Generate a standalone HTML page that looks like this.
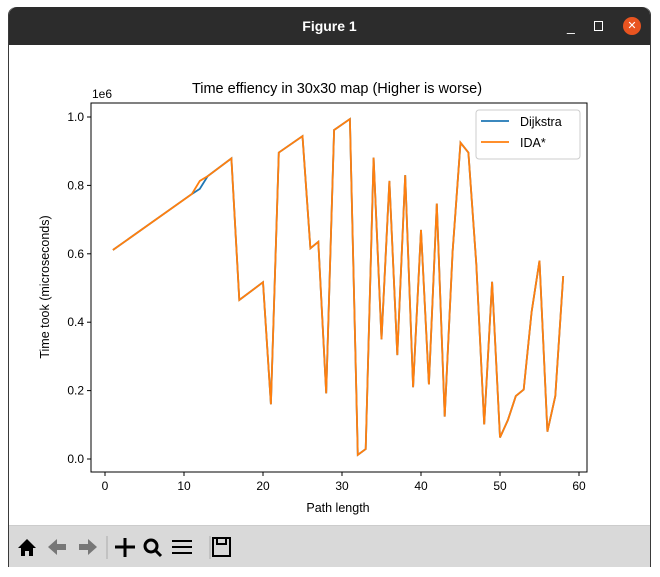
<!DOCTYPE html>
<html><head><meta charset="utf-8"><style>
body{margin:0;width:660px;height:577px;background:#fff;overflow:hidden;font-family:"Liberation Sans",sans-serif;}
#win{position:absolute;left:8px;top:7px;width:643px;height:560px;border:1px solid #3a3a3a;border-top:none;border-radius:8px 8px 0 0;background:#fff;box-sizing:border-box;}
#titlebar{position:absolute;left:0;top:0;width:100%;height:38px;background:#2c2c2c;border-radius:8px 8px 0 0;color:#fff;font-weight:bold;font-size:14px;text-align:center;line-height:38px;}
#toolbar{position:absolute;left:0;top:518px;width:100%;height:41px;background:#d9d9d9;border-top:1px solid #ccc;}
</style></head><body>
<div id="win">
<div id="titlebar">Figure 1
<span style="position:absolute;left:558px;top:0;font-weight:normal">_</span>
<span style="position:absolute;left:585px;top:14px;width:7px;height:8px;border:1px solid #fff"></span>
<span style="position:absolute;left:614px;top:10px;width:18px;height:18px;border-radius:9px;background:#e95420;font-size:11px;line-height:18px;font-weight:normal">✕</span>
</div>
<div id="toolbar">
<svg width="240" height="41" style="position:absolute;left:0;top:0">
<g><path d="M9 22 L18 13 L27 22 L24 22 L24 30 L20 30 L20 25 L16 25 L16 30 L12 30 L12 22 Z" fill="#000"/></g>
<g><path d="M39 21 L48 13 L48 18 L57 18 L57 24 L48 24 L48 29 Z" fill="#777"/></g>
<g><path d="M88 21 L79 13 L79 18 L70 18 L70 24 L79 24 L79 29 Z" fill="#777"/></g>
<line x1="98" y1="10" x2="98" y2="33" stroke="#aaa"/>
<g stroke="#000" stroke-width="3" fill="#000"><line x1="116" y1="12" x2="116" y2="31"/><line x1="106" y1="21" x2="126" y2="21"/></g>
<g><circle cx="142" cy="20" r="6" stroke="#000" stroke-width="3" fill="none"/><line x1="146" y1="24" x2="152" y2="30" stroke="#000" stroke-width="3"/></g>
<g stroke="#000" stroke-width="2"><line x1="163" y1="15" x2="183" y2="15"/><line x1="163" y1="21" x2="183" y2="21"/><line x1="163" y1="27" x2="183" y2="27"/></g>
<line x1="201" y1="10" x2="201" y2="33" stroke="#aaa"/>
<g><rect x="204" y="12" width="17" height="18" fill="none" stroke="#000" stroke-width="2"/><rect x="208" y="12" width="9" height="6" fill="none" stroke="#000" stroke-width="2"/></g>
</svg></div>
</div>
<svg id="chart" width="660" height="577" style="position:absolute;left:0;top:0" font-family="Liberation Sans, sans-serif"></svg>
<script>
const xs=[1,11,12,13,16,17,20,21,22,25,26,27,28,29,31,32,33,34,35,36,37,38,39,40,41,42,43,44,45,46,47,48,49,50,51,52,53,54,55,56,57,58];
const ida=[0.611,0.775,0.813,0.827,0.879,0.465,0.517,0.16,0.896,0.944,0.616,0.635,0.192,0.962,0.994,0.012,0.029,0.881,0.35,0.813,0.304,0.83,0.21,0.67,0.218,0.747,0.124,0.606,0.925,0.896,0.57,0.101,0.518,0.063,0.114,0.184,0.203,0.43,0.58,0.08,0.184,0.535];
const dij=[0.611,0.775,0.79,0.827,0.879,0.465,0.517,0.16,0.896,0.944,0.616,0.635,0.192,0.962,0.994,0.012,0.029,0.881,0.35,0.813,0.304,0.83,0.21,0.67,0.218,0.747,0.124,0.606,0.925,0.896,0.57,0.101,0.518,0.063,0.114,0.184,0.203,0.43,0.58,0.08,0.184,0.535];
const xTicks=[0,10,20,30,40,50,60];
const yTicks=[0.0,0.2,0.4,0.6,0.8,1.0];
const NS="http://www.w3.org/2000/svg";
const svg=document.getElementById('chart');
const X=v=>105+7.9*v, Y=v=>459-342*v;
function mk(t,a,p){const e=document.createElementNS(NS,t);for(const k in a)e.setAttribute(k,a[k]);(p||svg).appendChild(e);return e;}
let r=mk('rect',{x:91,y:103,width:496,height:369,fill:'none',stroke:'#000','stroke-width':1});


xTicks.forEach(t=>{mk('line',{x1:X(t),x2:X(t),y1:472,y2:476,stroke:'#000'});
let tx=mk('text',{x:X(t),y:490,'text-anchor':'middle','font-size':12});tx.textContent=t;

});
yTicks.forEach(t=>{mk('line',{x1:87,x2:91,y1:Y(t),y2:Y(t),stroke:'#000'});
let tx=mk('text',{x:84,y:Y(t)+4,'text-anchor':'end','font-size':12});tx.textContent=t.toFixed(1);

});
function line(vals,c,name){let d=xs.map((x,i)=>(i?'L':'M')+X(x)+' '+Y(vals[i])).join(' ');
let p=mk('path',{d:d,fill:'none',stroke:c,'stroke-width':1.8,'stroke-linejoin':'miter'});

}
line(dij,'#1f77b4','dijkstra-line');line(ida,'#ff7f0e','ida-star-line');
let t=mk('text',{x:337,y:93,'text-anchor':'middle','font-size':14.5});t.textContent='Time effiency in 30x30 map (Higher is worse)';


t=mk('text',{x:92,y:98,'font-size':12});t.textContent='1e6';


t=mk('text',{x:338,y:512,'text-anchor':'middle','font-size':12.5});t.textContent='Path length';


t=mk('text',{x:49,y:287,'text-anchor':'middle','font-size':12.5,transform:'rotate(-90 49 287)'});t.textContent='Time took (microseconds)';


let lg=mk('rect',{x:476,y:110,width:104,height:49,fill:'#fff',stroke:'#ccc',rx:3});


mk('line',{x1:481,x2:509,y1:121,y2:121,stroke:'#1f77b4','stroke-width':1.8});
t=mk('text',{x:520,y:126,'font-size':12.5});t.textContent='Dijkstra';


mk('line',{x1:481,x2:509,y1:142,y2:142,stroke:'#ff7f0e','stroke-width':1.8});
t=mk('text',{x:520,y:147,'font-size':12.5});t.textContent='IDA*';


</script>
</body></html>
